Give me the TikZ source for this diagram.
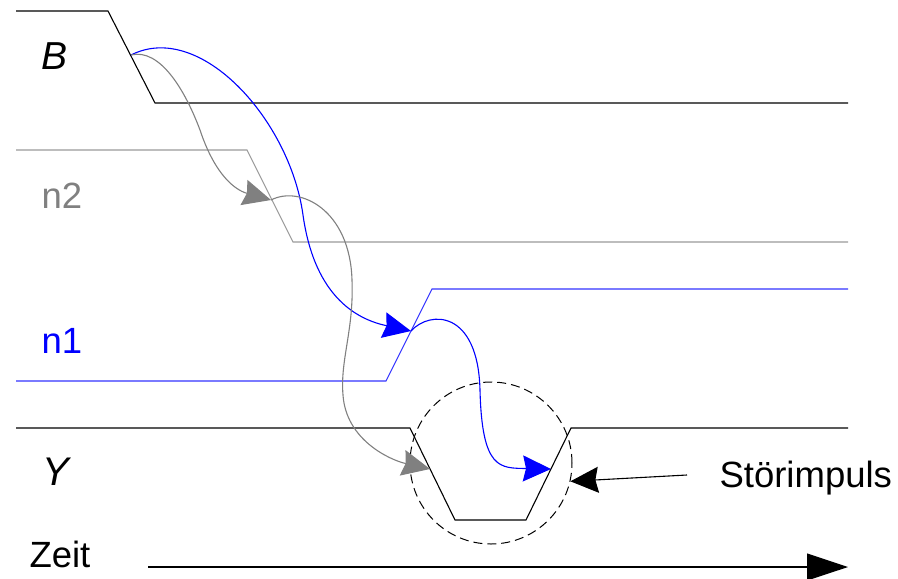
\documentclass[tikz,border=0pt]{standalone}
\usepackage{fontspec}
\setsansfont{Liberation Sans}
\usetikzlibrary{arrows.meta}
\tikzset{lab/.style={inner sep=0,anchor=base west},
  bigtip/.style={-{Stealth[inset=3pt,length=28pt,width=26pt]}}}
\begin{document}
\begin{tikzpicture}[font=\sffamily\fontsize{36.5}{40}\selectfont,x=1pt,y=-1pt,line width=1.1pt]
\useasboundingbox (0,0) rectangle (898,579);
% signals
\draw (16,11)--(108,11)--(155,103)--(848,103);
\draw[gray!80] (16,150)--(247,150)--(293,242)--(848,242);
\draw[blue!80] (16,381)--(386,381)--(432,289)--(848,289);
\draw (16,428)--(410,428)--(455,520)--(526,520)--(571,428)--(848,428);
\foreach \nm/\x/\y/\txt/\col in {B/41/69/{\fontsize{39}{40}\selectfont\textit{B}}/black,n2/41/208/n2/gray,n1/41/353/n1/blue,Y/42/485/{\fontsize{40}{40}\selectfont\textit{Y}}/black,zeit/29/567/Zeit/black,stoer/719/487/Störimpuls/black}{\node[lab,text=\col] (l\nm) at (\x,\y){\txt};}
\node[circle,draw,dash pattern=on 9pt off 5pt,line width=1pt,minimum size=162pt,inner sep=0] (spike) at (491,463){};
\coordinate (bB) at (131,55);\coordinate (n2e) at (271,200);\coordinate (n1e) at (411,331);
\coordinate (yf) at (430,469);\coordinate (yr) at (551,469);
\coordinate (st) at (687,475);\coordinate (t0) at (148,567);\coordinate (t1) at (848,567);
% causes
\draw[blue,bigtip] (bB) .. controls (200,20) and (290,120) .. (303,215) .. controls (315,300) and (360,320) .. (n1e);
\draw[blue,bigtip] (n1e) .. controls (430,310) and (478,310) .. (480,390) .. controls (482,470) and (500,468) .. (yr);
\draw[gray,bigtip] (bB) .. controls (160,48) and (185,90) .. (200,130) .. controls (215,175) and (235,190) .. (n2e);
\draw[gray,bigtip] (n2e) .. controls (300,185) and (350,210) .. (352,280) .. controls (354,330) and (340,360) .. (343,395) .. controls (346,440) and (390,460) .. (yf);
\draw[bigtip] (st)--(spike.-13.5);
\draw[-{Triangle[length=41pt,width=27pt]}] (t0)--(t1);
\end{tikzpicture}
\end{document}
